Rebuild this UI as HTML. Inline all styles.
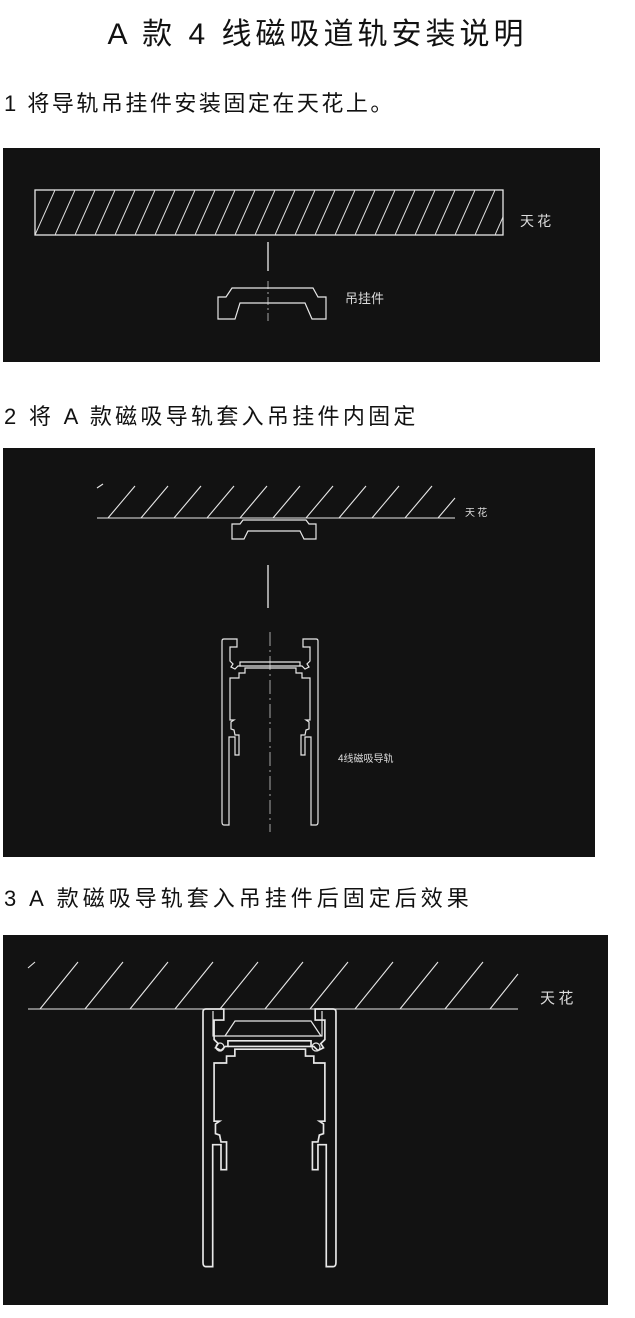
<!DOCTYPE html>
<html><head><meta charset="utf-8"><style>
body{margin:0;background:#fff;width:635px;height:1318px;overflow:hidden;position:relative;font-family:"Liberation Sans","Noto Sans CJK SC",sans-serif;}
.t{position:absolute;color:#111;white-space:nowrap}
.s{font-size:22px;letter-spacing:2.5px;left:4px}
svg{position:absolute;left:0;top:0}
</style></head><body>
<div class="t" style="left:0;width:635px;text-align:center;top:9px;font-size:30px;letter-spacing:4px;">A 款 4 线磁吸道轨安装说明</div>
<div class="t s" style="top:86px;">1 将导轨吊挂件安装固定在天花上。</div>
<div class="t s" style="top:399px;letter-spacing:3.3px;">2 将 A 款磁吸导轨套入吊挂件内固定</div>
<div class="t s" style="top:881px;letter-spacing:4px;">3 A 款磁吸导轨套入吊挂件后固定后效果</div>
<svg width="635" height="1318" xmlns="http://www.w3.org/2000/svg">
<defs>
<pattern id="h1" patternUnits="userSpaceOnUse" width="20" height="45" x="35" y="190"><line x1="0" y1="45" x2="20" y2="0" stroke="#ddd" stroke-width="1"/></pattern>
<g id="trk" fill="none" stroke="#e8e8e8" stroke-width="1.2">
<path d="M229,825 H224 Q222,825 222,822 V641 Q222,639 224,639 H237 V647 H230 V661 L233,664 L231,667 L235,669 L238,666 H240 V662 H300 V666 H302 L305,669 L309,667 L307,664 L310,661 V647 H303 V639 H316 Q318,639 318,641 V822 Q318,825 316,825 H311 V737 H305 V755 H301 V735 H305 L306,730 L309,729 L309,722 L306,720 H310 V678 H302 V673 H296 V668 H245 V673 H239 V678 H230 V720 H234 L231,722 L231,729 L234,730 L235,735 H239 V755 H235 V737 H229 Z"/>
<path d="M240,666 H300"/>
</g>
</defs>
<rect x="3" y="148" width="597" height="214" fill="#121212"/>
<rect x="35" y="190" width="468" height="45" fill="url(#h1)" stroke="#e8e8e8" stroke-width="1.3"/>
<text x="520" y="226" fill="#ddd" font-size="14" font-family="Noto Sans CJK SC,sans-serif">天 花</text>
<line x1="268" y1="242" x2="268" y2="271" stroke="#eee" stroke-width="1.3"/>
<line x1="268" y1="281" x2="268" y2="321" stroke="#ccc" stroke-width="0.8" stroke-dasharray="8,3,2,3"/>
<path d="M218,297 H226 L232,288 H313 L318,297 H326 V319 H312 L305,303 H240 L235,319 H218 Z" fill="none" stroke="#e8e8e8" stroke-width="1.2"/>
<text x="345" y="303" fill="#ddd" font-size="13" font-family="Noto Sans CJK SC,sans-serif">吊挂件</text>
<rect x="3" y="448" width="592" height="409" fill="#121212"/>
<g stroke="#e8e8e8" stroke-width="1.1">
<line x1="97" y1="518" x2="455" y2="518"/>
<line x1="97" y1="488" x2="103" y2="484"/>
<line x1="108" y1="518" x2="135" y2="486"/><line x1="141" y1="518" x2="168" y2="486"/><line x1="174" y1="518" x2="201" y2="486"/><line x1="207" y1="518" x2="234" y2="486"/><line x1="240" y1="518" x2="267" y2="486"/><line x1="273" y1="518" x2="300" y2="486"/><line x1="306" y1="518" x2="333" y2="486"/><line x1="339" y1="518" x2="366" y2="486"/><line x1="372" y1="518" x2="399" y2="486"/><line x1="405" y1="518" x2="432" y2="486"/><line x1="438" y1="518" x2="455" y2="498"/>
</g>
<text x="465" y="516" fill="#ddd" font-size="10" font-family="Noto Sans CJK SC,sans-serif">天 花</text>
<path d="M232,524 H240 L243,520 H306 L309,524 H316 V539 H304 L300,531 H248 L244,539 H232 Z" fill="none" stroke="#e8e8e8" stroke-width="1.2"/>
<line x1="268" y1="565" x2="268" y2="608" stroke="#eee" stroke-width="1.3"/>
<line x1="270" y1="632" x2="270" y2="832" stroke="#ccc" stroke-width="0.8" stroke-dasharray="14,4,2,4"/>
<use href="#trk"/>
<text x="338" y="762" fill="#ddd" font-size="10" font-family="Noto Sans CJK SC,sans-serif">4线磁吸导轨</text>
<rect x="3" y="935" width="605" height="370" fill="#121212"/>
<g stroke="#e8e8e8" stroke-width="1.1">
<line x1="28" y1="1009" x2="518" y2="1009"/>
<line x1="28" y1="968" x2="35" y2="962"/>
<line x1="40" y1="1009" x2="78" y2="962"/><line x1="85" y1="1009" x2="123" y2="962"/><line x1="130" y1="1009" x2="168" y2="962"/><line x1="175" y1="1009" x2="213" y2="962"/><line x1="220" y1="1009" x2="258" y2="962"/><line x1="265" y1="1009" x2="303" y2="962"/><line x1="310" y1="1009" x2="348" y2="962"/><line x1="355" y1="1009" x2="393" y2="962"/><line x1="400" y1="1009" x2="438" y2="962"/><line x1="445" y1="1009" x2="483" y2="962"/><line x1="490" y1="1009" x2="518" y2="974"/>
</g>
<text x="540" y="1003" fill="#ddd" font-size="15" font-family="Noto Sans CJK SC,sans-serif">天 花</text>
<g transform="translate(203,1009) scale(1.385) translate(-222,-639)">
<use href="#trk"/>
</g>
<g fill="none" stroke="#e8e8e8" stroke-width="1.2">
<path d="M213,1011 V1036 H322 V1011"/>
<path d="M225,1036 L235,1021 H311 L321,1036"/>
<circle cx="220" cy="1047" r="4"/><circle cx="316" cy="1047" r="4"/>
</g>
</svg>
</body></html>
